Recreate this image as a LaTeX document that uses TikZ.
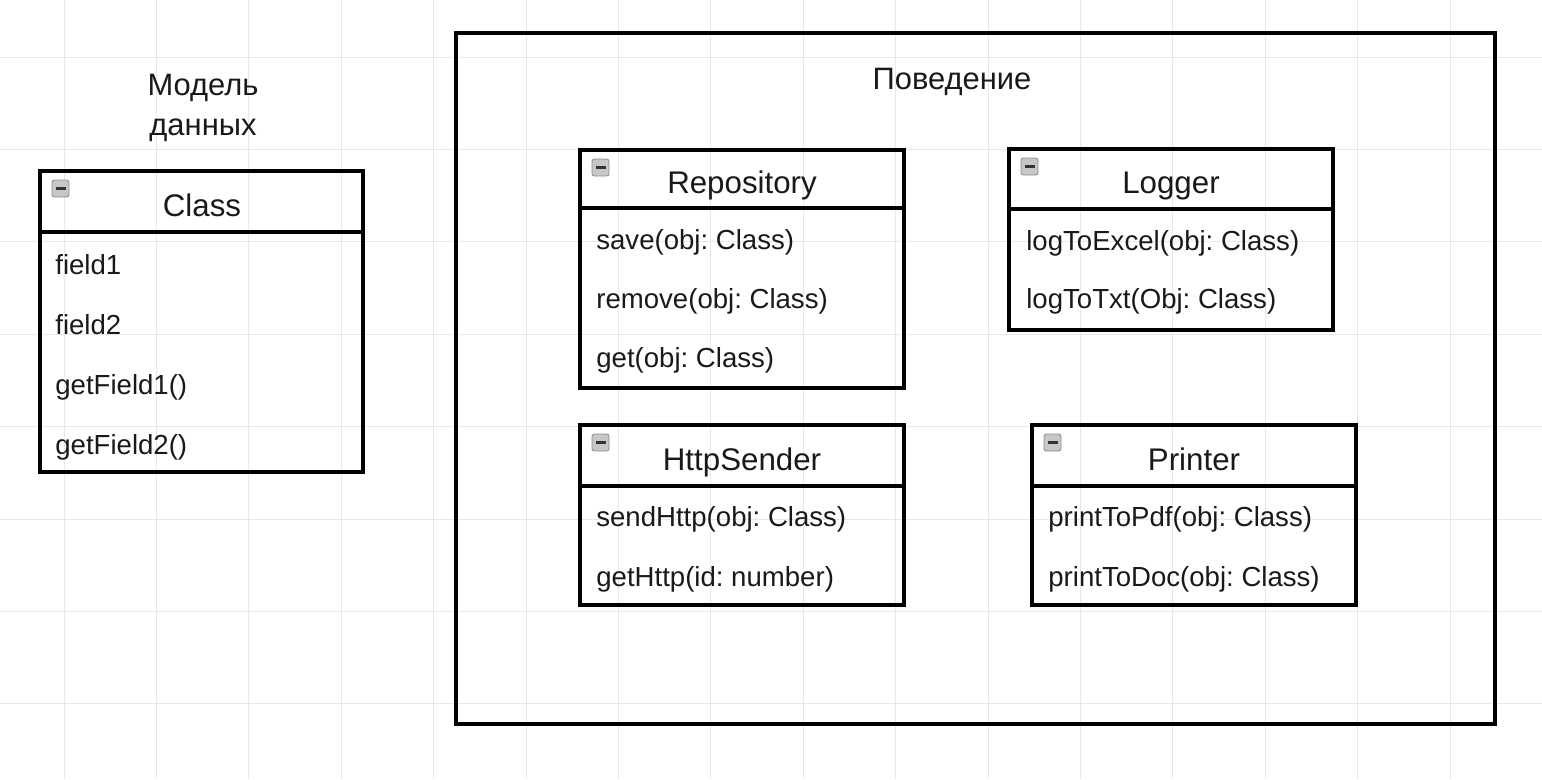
\documentclass[tikz,border=0pt]{standalone}
\usepackage{fontspec}
\setmainfont{Liberation Sans}
\frenchspacing

\begin{document}
\begin{tikzpicture}[x=0.02cm, y=-0.02cm,
    gridline/.style={draw=black!9, line width=0.5pt},
    frame/.style={draw=black, line width=2.2pt},
    icon/.style={draw=black!45, fill=black!22, line width=0.5pt, rounded corners=0.05cm},
    minus/.style={draw=black!80, line width=1.5pt},
    heading/.style={font=\fontsize{17.6}{22.8}\selectfont, text=black!90, inner sep=0pt},
    title/.style={anchor=base, font=\fontsize{17.8}{21}\selectfont, text=black!90, inner sep=0pt},
    item/.style={anchor=base west, font=\fontsize{15.7}{18}\selectfont, text=black!90, inner sep=0pt}]
  \useasboundingbox (0,0) rectangle (1542,779);
  % Background grid
  \foreach \k in {0,...,16}
      \draw[gridline] ({64+92.4*\k},0) -- ({64+92.4*\k},779);
  \foreach \k in {0,...,7}
      \draw[gridline] (0,{57+92.4*\k}) -- (1542,{57+92.4*\k});
  % Data model
  \node[heading, align=center] (model) at (203,108) {Модель\\данных};
  \draw[frame] (40,171) rectangle (363,472);
  \draw[frame] (40,232) -- (363,232);
  \draw[icon] (52,180) rectangle +(17,17);
  \draw[minus] (55.5,188.5) -- +(10,0);
  \node[title] (cls) at (202,216) {Class};
  \foreach \t [count=\i] in {field1, field2, getField1(), getField2()}
      \node[item] (cls\i) at (55,{214+60*\i}) {\t};
  % Behaviour frame
  \draw[frame] (456,33) rectangle (1495,724);
  \node[heading] (behav) at (952,82) {Поведение};
  % Repository
  \draw[frame] (580,150) rectangle (904,388);
  \draw[frame] (580,208) -- (904,208);
  \draw[icon] (592,159) rectangle +(17,17);
  \draw[minus] (595.5,167.5) -- +(10,0);
  \node[title] (repo) at (742,193) {Repository};
  \foreach \t [count=\i] in {save(obj: Class), remove(obj: Class), get(obj: Class)}
      \node[item] (repo\i) at (596,{190+59*\i}) {\t};
  % Logger
  \draw[frame] (1009,149) rectangle (1333,330);
  \draw[frame] (1009,209) -- (1333,209);
  \draw[icon] (1021,158) rectangle +(17,17);
  \draw[minus] (1024.5,166.5) -- +(10,0);
  \node[title] (log) at (1171,193) {Logger};
  \foreach \t [count=\i] in {logToExcel(obj: Class), logToTxt(Obj: Class)}
      \node[item] (log\i) at (1026,{192+58*\i}) {\t};
  % HttpSender
  \draw[frame] (580,425) rectangle (904,605);
  \draw[frame] (580,486) -- (904,486);
  \draw[icon] (592,434) rectangle +(17,17);
  \draw[minus] (595.5,442.5) -- +(10,0);
  \node[title] (http) at (742,470) {HttpSender};
  \foreach \t [count=\i] in {sendHttp(obj: Class), getHttp(id: number)}
      \node[item] (http\i) at (596,{466+60*\i}) {\t};
  % Printer
  \draw[frame] (1032,425) rectangle (1356,605);
  \draw[frame] (1032,486) -- (1356,486);
  \draw[icon] (1044,434) rectangle +(17,17);
  \draw[minus] (1047.5,442.5) -- +(10,0);
  \node[title] (prn) at (1194,470) {Printer};
  \foreach \t [count=\i] in {printToPdf(obj: Class), printToDoc(obj: Class)}
      \node[item] (prn\i) at (1048,{466+60*\i}) {\t};
\end{tikzpicture}
\end{document}
